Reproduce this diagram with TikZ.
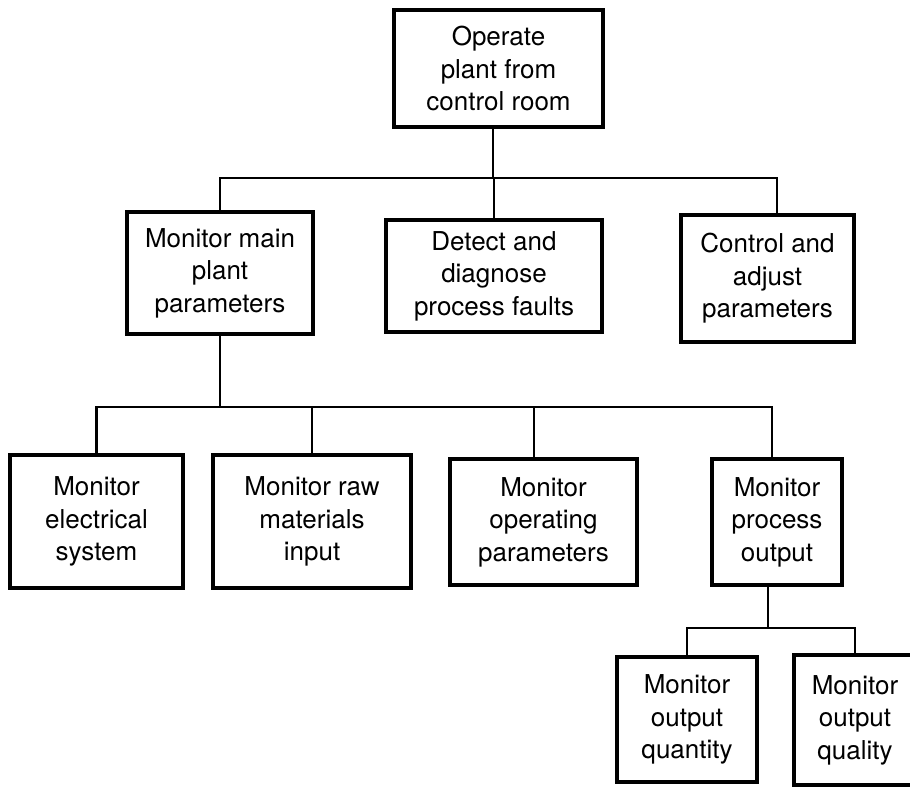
\documentclass[tikz,border=0pt]{standalone}
\usepackage{fontspec}
\setmainfont{TeX Gyre Heros}
\begin{document}
\begin{tikzpicture}[x=1pt, y=-1pt,
  task/.style={draw, line width=3.1pt, inner sep=0pt, outer sep=0pt,
    align=center, font=\fontsize{26}{32.5}\selectfont},
  link/.style={line width=2.7pt}]
  % page frame
  \fill[white] (0,0) rectangle (910,787);
  \useasboundingbox (0,0) rectangle (910,787);

  % top task
  \node[task, minimum width=209pt, minimum height=117pt] (top) at (498.5,68.5)
    {Operate\\plant from\\control room};

  % second level
  \node[task, minimum width=186pt, minimum height=122pt] (mmp) at (220,273)
    {Monitor main\\plant\\parameters};
  \node[task, minimum width=216pt, minimum height=112pt] (ddf) at (494,276)
    {Detect and\\diagnose\\process faults};
  \node[task, minimum width=173pt, minimum height=127pt] (cap) at (767.5,278.5)
    {Control and\\adjust\\parameters};

  % third level
  \node[task, minimum width=173pt, minimum height=133pt] (mes) at (96.5,521.5)
    {Monitor\\electrical\\system};
  \node[task, minimum width=198pt, minimum height=133pt] (mrm) at (312,521.5)
    {Monitor raw\\materials\\input};
  \node[task, minimum width=187pt, minimum height=126pt] (mop) at (543.5,522)
    {Monitor\\operating\\parameters};
  \node[task, minimum width=130pt, minimum height=126pt] (mpo) at (777,522)
    {Monitor\\process\\output};

  % fourth level
  \node[task, minimum width=140pt, minimum height=125pt] (moq) at (687,719.5)
    {Monitor\\output\\quantity};
  \node[task, minimum width=122pt, minimum height=130pt] (mol) at (855,720)
    {Monitor\\output\\quality};

  % bus heights
  \coordinate (busA) at (0,178);
  \coordinate (busB) at (0,407);
  \coordinate (busC) at (0,628);

  % connector attachment points
  \coordinate (topOut) at ([xshift=-5.5pt]top.south);
  \coordinate (capIn)  at ([xshift=9.5pt]cap.north);
  \coordinate (mopIn)  at ([xshift=-9.5pt]mop.north);
  \coordinate (mpoIn)  at ([xshift=-5pt]mpo.north);
  \coordinate (mpoOut) at ([xshift=-9pt]mpo.south);

  % top -> second level
  \draw[link] (topOut) -- (topOut |- busA);
  \draw[link] (mmp.north) -- (mmp.north |- busA) -- (capIn |- busA) -- (capIn);
  \draw[link] (ddf.north) -- (ddf.north |- busA);

  % monitor main -> third level
  \draw[link] (mmp.south) -- (mmp.south |- busB);
  \draw[link] (mes.north) -- (mes.north |- busB) -- (mpoIn |- busB) -- (mpoIn);
  \draw[link] (mrm.north) -- (mrm.north |- busB);
  \draw[link] (mopIn) -- (mopIn |- busB);

  % process output -> fourth level
  \draw[link] (mpoOut) -- (mpoOut |- busC);
  \draw[link] (moq.north) -- (moq.north |- busC) -- (mol.north |- busC) -- (mol.north);
\end{tikzpicture}
\end{document}
